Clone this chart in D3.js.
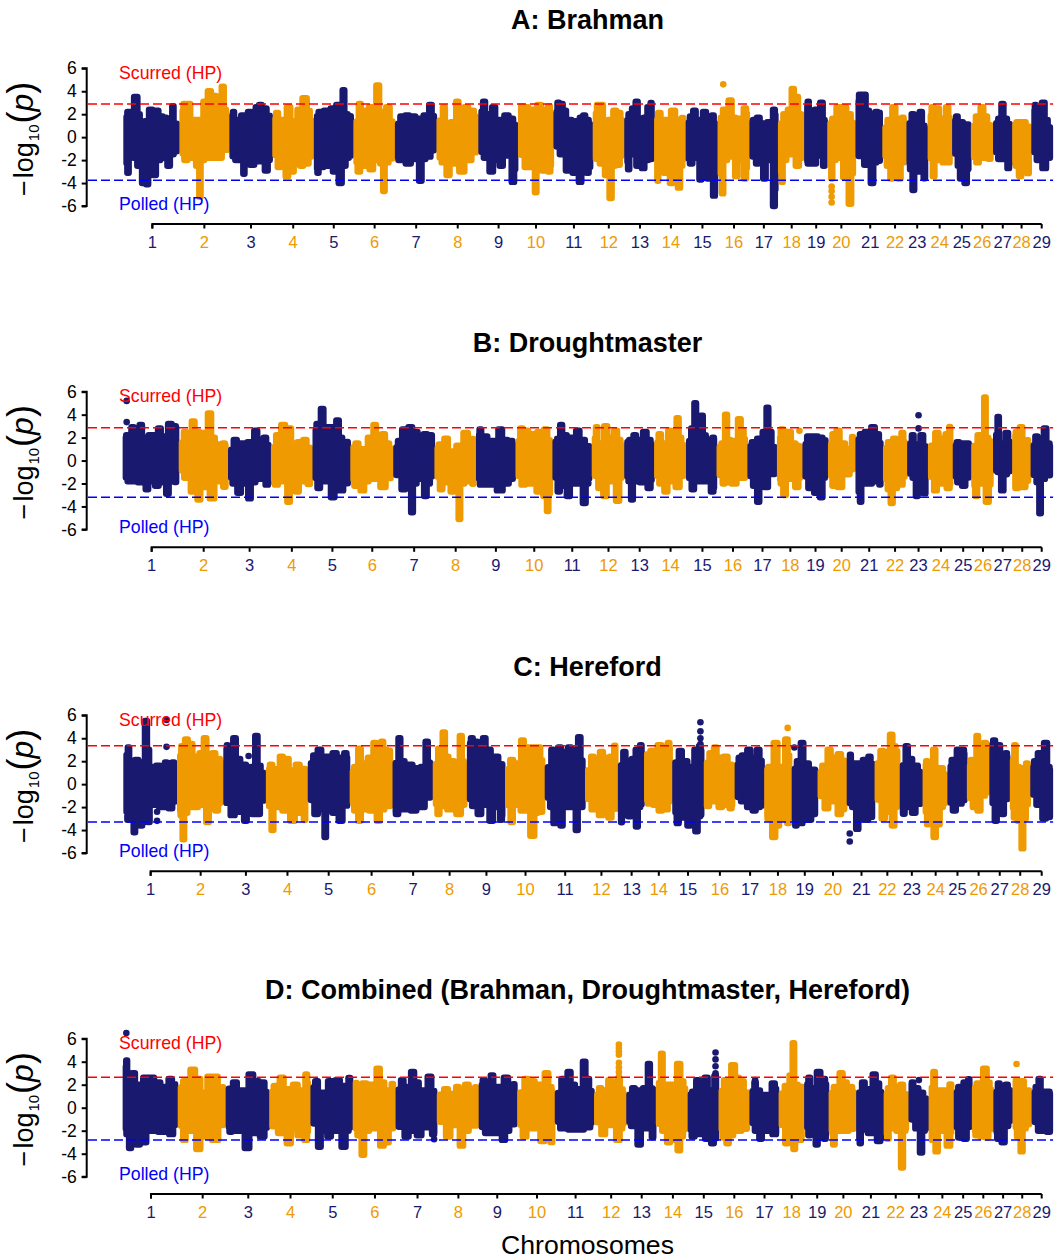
<!DOCTYPE html>
<html><head><meta charset="utf-8">
<script src="https://cdn.jsdelivr.net/npm/d3@7"></script>
<style>html,body{margin:0;padding:0;background:#fff}svg{display:block}text{font-family:"Liberation Sans",Arial,sans-serif}</style>
</head><body><div id="c"></div>
<script>
const chroms = d3.range(1,30).map(String);
const yTicks = [-6,-4,-2,0,2,4,6];
const genomeSecondHalfStart = 1568;
const navy = "#191970", orange = "#EE9A00";

// Each profile: flat position,value pairs. "1" = first half of the genome axis, "2" = second half.
const endsA1=[366,532,680,807,930,1047,1170,1293,1417,1532];
const endsA2=[68,185,279,368,462,557,652,737,815,884,968,1048,1120,1183,1256,1312,1378,1435,1492,1555];
const ticksA1=[451,605,743,868,988,1109,1232,1355,1476];
const ticksA2=[15,128,232,325,417,511,605,694,777,850,925,1011,1085,1151,1218,1284,1345,1406,1462,1522];
const topA1=[370,1.2,378,2.2,392,2.2,399,3.5,405,3.5,411,2,420,1,432,1.4,445,2.4,465,2.3,478,1.8,490,1.7,498,1,505,1,512,2.7,518,1,528,1.3,
535,1.3,544,2.9,558,2.9,575,1.5,598,1.5,604,3.1,620,4,635,3.6,648,2.3,660,4.4,668,2.4,677,1,
683,1,690,2.2,700,1.5,720,1.9,740,2.2,750,1.8,760,2.6,770,2.8,785,2.5,800,1.8,805,1,
810,.5,818,2.1,835,1.5,855,2.6,870,1.4,885,2.4,900,3.4,905,3.4,915,2.3,925,1,
933,1.5,945,2.2,965,2.3,985,2.5,1000,2.8,1008,2,1017,4.1,1025,2,1040,1.8,1045,1,
1050,.5,1065,2.9,1075,2.3,1100,2.6,1120,4.5,1128,2.2,1150,2.6,1165,1,
1173,.8,1188,1.8,1205,1.9,1225,1.8,1240,1.6,1260,1.9,1275,2.8,1285,1.8,
1296,1,1315,2.6,1322,1.2,1340,1.3,1355,3.1,1362,1.6,1380,2.6,1400,2.3,1414,1.5,
1420,1.5,1432,3.1,1445,2,1462,2.6,1475,1.5,1500,1.9,1515,1.6,1528,.8,
1536,1.5,1540,2.7,1555,2.6];
const topA2=[5,2.4,25,2.8,40,2.4,55,2.7,66,1,
72,1.2,80,3,92,2.9,100,2.3,115,1.5,135,1.4,150,1.7,158,1.9,170,1.5,182,.8,
190,1.5,198,2.8,212,2.8,220,1.4,235,1.5,250,2.3,265,2.1,275,1,
283,1,292,2,305,2.5,315,3.1,325,1.6,340,1.7,350,2.6,360,3,365,1.5,
372,.8,380,2.1,400,1.5,425,2.3,440,1.5,455,1.7,460,.8,
466,.8,475,1.8,487,2.3,500,1.5,518,2.2,530,1.3,543,1.9,552,.8,
560,1.3,575,2.4,595,3.2,605,1.7,620,1.6,640,2.5,648,1.5,
656,1,662,1.5,678,1.7,690,1.2,710,1.3,726,2.4,734,1,
741,.8,755,2,770,2.4,780,4.2,792,3.5,805,2,812,.8,
819,1.5,825,3.1,835,2,850,2.4,867,3,875,1.5,881,.6,
888,1,900,1.6,915,2.6,935,2.6,950,2,963,1,
972,1.5,978,3.7,995,3.7,1003,2.3,1018,1.8,1030,2.2,1042,2.1,1046,1,
1052,.5,1065,1.5,1082,2.6,1095,1.6,1110,1.7,1116,.8,
1124,.8,1137,2,1150,1.3,1162,2.2,1172,1,1180,.3,
1187,1,1195,2.6,1212,2.5,1225,1.6,1242,2.6,1252,1,
1260,1,1268,1.8,1280,1.3,1305,1.1,1310,.5,
1316,.5,1328,1.8,1345,2.6,1355,1.8,1374,.8,
1382,1,1395,1.6,1405,2.9,1415,1.6,1430,1,
1438,.8,1448,1.3,1470,1.3,1488,.8,
1496,1,1502,2.8,1510,1.5,1528,3,1537,1.5,1552,.5];
const botA1=[370,-1.2,378,-3.1,388,-1.5,398,-1.8,410,-2.5,425,-4,436,-4.1,445,-1.5,458,-3.3,470,-2,485,-1.8,500,-2.5,510,-1.5,525,-1.2,
535,-1,548,-2,570,-1.8,585,-2.5,592,-5.2,598,-2,620,-1.8,650,-1.8,675,-1,
683,-1.5,700,-2,716,-2,722,-3.2,728,-2,745,-2.4,770,-2.1,790,-2.9,803,-1.5,
810,-1,825,-2.6,840,-2.2,848,-3.4,865,-3,880,-2,892,-2.5,910,-2.3,925,-1.5,
933,-1.5,940,-3.1,950,-2.6,975,-2.5,990,-3,1008,-4,1020,-2.5,1030,-1.8,1045,-1.5,
1050,-1.2,1060,-3,1080,-2.5,1100,-2.8,1115,-2,1130,-2.3,1136,-4.7,1145,-2.2,1165,-1.8,
1173,-1.2,1180,-2,1210,-2.3,1230,-1.9,1245,-3.8,1255,-1.9,1270,-1.7,1288,-1,
1296,-1.5,1310,-2.2,1327,-3.3,1340,-2.3,1368,-3,1390,-2,1412,-1.2,
1420,-1,1435,-1.8,1455,-3,1470,-2,1483,-2.5,1500,-1.6,1519,-3.9,1528,-1.7,
1540,-1.5,1555,-2.6];
const botA2=[7,-2.6,14,-4.8,22,-2.6,37,-2.9,57,-3,66,-1,
72,-.6,90,-1.5,110,-2.9,130,-3.1,148,-3.9,155,-3,170,-3.1,182,-2.2,
190,-1.8,210,-2.3,225,-3.3,238,-5.3,246,-2.5,262,-2.4,275,-1.2,
283,-1,290,-2.8,300,-1.5,320,-2.5,335,-2.7,345,-2,360,-1.9,365,-1,
372,-1.5,377,-3.8,385,-2.5,400,-3.1,420,-4,428,-2.4,442,-4.4,450,-2.5,460,-1,
466,-1.5,475,-2.3,495,-1.8,505,-3.7,515,-2.5,530,-3.6,548,-5.1,554,-2.5,
560,-1.5,571,-4.9,578,-2,600,-1.7,612,-3.4,620,-2,640,-3.6,650,-1,
656,-1.5,675,-2.3,685,-2,695,-3.6,710,-2,726,-6,733,-2,
741,-1.5,748,-3.9,755,-2,775,-1.5,795,-2.5,812,-1.5,
819,-1.5,825,-2.3,845,-2.3,860,-1.6,875,-2.5,881,-1,
888,-1,896,-3.6,903,-2,920,-1.8,935,-3.5,952,-5.8,960,-3,965,-1,
972,-1.5,1000,-2.4,1018,-4,1025,-2.2,1045,-2,
1052,-1,1062,-2.5,1075,-3.6,1085,-2.5,1098,-3.6,1110,-2.2,1117,-1,
1124,-1,1130,-2.8,1140,-4.6,1147,-3,1160,-3,1175,-3.6,1180,-2.5,
1187,-1,1200,-3.4,1208,-2,1235,-2.2,1250,-2.2,
1260,-1,1275,-2.5,1280,-3.6,1297,-4,1305,-2.5,1310,-1,
1316,-1.5,1330,-2.2,1345,-1.8,1374,-1.9,
1382,-1,1395,-1.9,1410,-1.9,1424,-2.7,1432,-1.5,
1438,-1,1445,-2.5,1458,-3.4,1468,-2.5,1485,-3.2,1490,-1.8,
1496,-1,1510,-2,1530,-2.7,1552,-1.5];
const outA1=[], outA2=[573,4.6,896,-4.3,896,-4.7,896,-5.2,896,-5.7];

const endsB1=[364,530,676,803,926,1038,1165,1287,1410,1525];
const endsB2=[65,182,279,368,463,554,646,734,810,886,968,1050,1122,1184,1258,1313,1378,1435,1490,1555];
const ticksB1=[449,603,739,864,984,1102,1226,1349,1468];
const ticksB2=[10,123,231,324,416,511,602,690,773,848,926,1008,1085,1155,1222,1288,1347,1406,1464,1522];
const topB1=[368,1.5,374,2.2,382,2,392,2.9,405,2.4,417,3.1,428,2,445,2.2,458,2.2,472,2.8,485,2.1,503,3.2,520,3,527,2.5,
533,1,547,2.5,558,1.9,572,3.4,585,2.5,600,2.4,622,4.1,632,2,645,1.4,665,1.5,673,1,
679,.5,695,1.8,715,1.5,740,1.6,758,2.6,770,1.8,785,2,800,1,
806,.5,820,2.2,838,3.1,858,2.8,870,1.5,885,1.6,903,1.8,920,1,
930,2,938,3.2,955,4.5,963,2.9,985,2.9,1000,3.5,1010,2,1020,1.5,1035,1.7,
1042,1,1055,1.5,1075,1,1095,2,1110,3.1,1120,2,1135,2.3,1150,1.5,1162,.7,
1169,.8,1180,1.7,1195,2.7,1215,2.9,1232,2.5,1245,1.5,1258,2.3,1280,2.2,
1290,.7,1300,1.4,1322,1.9,1335,.8,1358,1.3,1378,2.4,1405,1.8,
1414,1,1420,2.7,1435,2.1,1460,1.7,1482,2.7,1495,1.8,1515,1.7,1522,.8,
1528,.8,1540,2.8,1555,2.6];
const topB2=[5,2.3,25,2.5,45,2.7,60,1.5,
70,1.5,80,1.9,90,3.1,100,2.2,122,2,140,2.6,155,1.8,175,1.2,
186,1,195,2.9,205,1.5,224,3,235,2,253,2.6,265,1.8,275,1,
283,1.5,295,1.8,310,2.2,320,1.8,340,2.5,355,1.8,364,1,
372,1,382,2.3,400,1.5,413,2.6,425,2.2,438,3.7,445,2,460,1,
466,1,480,2.8,490,5,497,3,510,3.9,517,2.2,530,1.8,545,2,552,1,
558,1,570,1.5,582,4,590,1.8,605,1.7,622,3.6,632,2.6,642,1.3,
650,1,660,1.6,680,1.9,695,2.5,705,4.6,713,2.5,730,.7,
738,.8,745,2.7,770,2.5,785,1.5,795,1.3,806,1.2,
814,1,825,2.1,850,2.1,865,2,882,1.7,
890,.7,900,2.3,915,2.6,930,1.5,950,1,960,2.1,965,1,
972,1.5,982,2.3,1000,2.5,1020,2.9,1035,2.3,1046,1,
1054,.8,1066,1.6,1085,1.9,1095,1.4,1108,2.4,1118,1,
1126,1,1137,2.2,1148,1.4,1166,2.2,1180,.8,
1188,1,1210,2.4,1225,1.9,1240,2.3,1252,3.1,1256,1.5,
1262,1,1270,1.6,1290,1.5,1310,1.5,
1317,1,1335,2.2,1345,2.2,1353,5.5,1360,2,1375,1.5,
1382,1,1392,3.8,1400,1.5,1420,2.4,1432,1,
1438,1,1445,2.5,1462,2.9,1470,1.7,1487,1.8,
1494,.8,1505,2.1,1520,1.5,1532,2.8,1545,1.5,1552,.5];
const botB1=[368,-1.3,380,-1.8,420,-1.9,436,-2.5,445,-1.8,465,-2.2,480,-1.9,497,-2.9,505,-1.8,527,-1.9,
533,-.5,548,-1.5,572,-2.7,590,-3.4,600,-2.3,630,-3.3,645,-1.8,668,-2.3,673,-1,
679,-1,690,-2,708,-2.8,725,-2,739,-3.3,750,-1.9,770,-1.6,793,-2.1,800,-1.5,
806,-1,815,-2.1,840,-1.8,855,-3.6,865,-2,880,-2.7,895,-1.8,923,-2.1,
930,-1,942,-2.4,960,-1.8,988,-3.2,995,-1.8,1010,-2.6,1035,-1.8,
1042,-1,1050,-2.2,1075,-2.6,1085,-1.8,1105,-1.6,1135,-2.3,1160,-1.4,
1169,-1,1195,-2.5,1210,-2,1220,-4.5,1228,-2,1245,-1.6,1260,-3.1,1270,-2,1284,-1,
1290,-.8,1305,-2.5,1320,-1.9,1340,-2.7,1352,-2.2,1360,-5.1,1368,-2,1390,-1.8,1405,-2.1,
1414,-1,1422,-2.1,1445,-2.1,1482,-2.6,1500,-2,1520,-1.5,
1528,-1,1545,-2.1,1565,-2];
const botB2=[25,-2.7,42,-3.1,50,-4.4,58,-2.5,
70,-1,82,-2.7,95,-2.2,112,-3.1,125,-2,142,-2,160,-3.7,170,-2,178,-1,
186,-1,205,-2.4,220,-3.1,238,-1.8,260,-3.5,270,-1.5,
283,-1,292,-1.8,301,-3.4,310,-1.8,330,-1.9,355,-2.4,364,-1,
372,-1,385,-2,403,-2.7,415,-1.8,438,-2.3,460,-1,
466,-1,482,-2.5,495,-1.8,520,-1.8,543,-2.7,552,-1.5,
558,-1,575,-2,582,-1.9,605,-2,630,-1.5,642,-1.5,
650,-1,665,-2.2,678,-3.6,686,-2,698,-2.3,730,-1,
738,-1,745,-2,755,-3,770,-1.6,795,-2.3,806,-1,
814,-1,830,-2.4,850,-2.8,866,-3.2,875,-1.5,882,-1,
890,-.6,900,-2.2,920,-2.3,945,-1.2,965,-.6,
972,-2,982,-3.6,990,-2,1010,-2,1030,-1.8,1046,-2.2,
1054,-1,1065,-2.5,1075,-3.7,1085,-2.4,1105,-2.1,1118,-1,
1126,-1,1140,-1.5,1150,-3.1,1158,-1.5,1176,-2.9,1181,-1,
1188,-1,1205,-2.6,1220,-2,1247,-2.4,1255,-1.2,
1262,-1,1272,-1.9,1290,-2.2,1310,-1.2,
1317,-1,1325,-3.1,1340,-2,1362,-3.6,1370,-2,1375,-1.2,
1382,-.8,1392,-1,1405,-2.6,1415,-1.2,1432,-.8,
1438,-1,1442,-2.4,1470,-2.3,1487,-1.5,
1494,-1,1510,-1.9,1517,-4.6,1525,-1.6,1552,-1.2];
const outB1=[375,5.2,375,3.35], outB2=[800,2.6,1155,3.95,1155,2.8];

const endsC1=[366,525,662,788,912,1036,1163,1282,1383,1495];
const endsC2=[42,162,260,338,422,516,608,696,778,855,942,1025,1100,1168,1242,1300,1367,1428,1489,1555];
const ticksC1=[446,594,728,851,973,1100,1223,1331,1440,1553];
const ticksC2=[102,210,300,381,468,563,653,736,816,900,985,1062,1135,1206,1271,1334,1397,1458,1522];
const topC1=[370,2,380,3.2,388,1.8,405,2.1,420,1.9,433,5.5,440,3,445,1.5,470,1.6,480,1,492,1.9,498,1.5,515,1.9,522,1,
528,1.5,538,3.3,552,3.9,565,3.5,580,2.4,595,2.7,607,4,620,2.4,632,2.7,650,2.2,659,1.5,
665,2,672,3.4,680,2.5,695,4,705,2.2,725,1.7,736,1,745,1.5,760,4.2,768,1.6,785,.7,
792,.8,800,1.7,820,1.3,832,2.4,850,2.2,865,1.2,880,1.7,905,1.3,
916,1.5,930,2.5,945,3,965,2.4,993,2.7,1005,2.3,1025,2.7,1033,1.5,
1040,.8,1050,1.5,1065,3.1,1075,1.8,1095,2.3,1110,3.6,1120,2.8,1132,3.7,1140,3,1158,2.9,1161,1.5,
1167,1,1183,4,1190,2,1215,1.7,1235,1.4,1250,1.5,1264,3.7,1272,1.9,1280,1.5,
1285,1,1300,3.1,1315,4.5,1322,2.4,1340,2,1352,1.5,1365,4.2,1372,2,1380,1,
1387,3,1395,4,1410,3.7,1420,2.6,1434,4,1445,3,1470,2.4,1490,1.6,
1498,.8,1512,2.1,1530,1.8,1545,3.8,1555,3.2];
const topC2=[5,3.2,25,3.2,38,1.5,
46,1,65,3,72,1.5,85,3.2,100,2.8,115,3.2,130,3,145,4.1,155,1.7,160,1,
166,.8,183,2.4,195,1.8,210,2.8,225,2.3,240,2.4,252,3.4,258,1,
263,1,278,2.8,290,2,305,2.2,315,3,330,3.4,336,1.5,
342,2.5,360,2.9,385,3.4,398,2.3,412,3.6,420,1.5,
425,1.5,445,2.9,460,2,480,1.5,490,3,505,3.3,514,2,
520,1.5,535,2.7,550,3.2,560,2.3,580,2.4,605,1.5,
612,1,620,2.3,632,2.5,650,3,662,2.3,678,3,693,1.5,
700,1,708,1.5,730,3.6,745,1.5,763,3.9,772,2,
782,1,795,2,808,3.6,820,1.8,850,1.2,853,.6,
860,.8,870,1.6,890,3,900,2.3,920,2.6,935,2,940,1,
946,1,950,2.6,960,1.8,975,1.8,995,2.1,1010,2.4,1022,1.3,
1030,1.5,1045,2.9,1060,2.8,1074,4.3,1084,3.3,1095,2.7,
1104,1,1120,3.3,1130,2.2,1150,1.6,1165,.8,
1172,.8,1178,2,1190,1.5,1202,3,1212,1.4,1225,1.4,1238,.6,
1246,1,1255,2.1,1275,3,1290,3,1297,1.5,
1304,1,1312,2.1,1322,1.5,1330,4.2,1338,2.2,1355,3.6,1364,2,
1371,3,1378,3.8,1395,3.4,1405,2,1418,2.7,1425,1.3,
1432,1,1442,3.4,1450,1.5,1465,1.4,1480,1.8,1486,.8,
1493,.6,1500,2,1515,2.7,1535,3.6,1545,1.5,1553,.3];
const botC1=[370,-1.5,378,-3.1,390,-2,398,-4.2,405,-2.5,418,-3.6,428,-2.5,440,-3.3,450,-1.8,480,-2,507,-2.1,522,-1.2,
528,-1,535,-2.7,543,-4.8,550,-2.5,565,-2,580,-2,600,-1.8,615,-3.3,625,-2,642,-2.3,659,-1.3,
665,-1.3,688,-2.7,710,-2.4,728,-3.2,736,-1.6,750,-2.6,765,-2.6,785,-1,
792,-1,807,-4,815,-2,845,-2.3,865,-3.2,890,-2.5,905,-3.2,910,-1.5,
916,-1,935,-2.6,955,-2.2,963,-4.6,970,-2.2,990,-2.5,1008,-3.2,1033,-1.5,
1040,-1,1050,-2.3,1065,-3.2,1075,-2.2,1100,-2.3,1122,-3.2,1130,-2.2,1155,-1.9,
1167,-1,1172,-2.6,1195,-2.2,1225,-2.3,1250,-2,1278,-1,
1285,-1,1297,-2.6,1310,-1.9,1330,-2.2,1360,-2.6,1380,-1.5,
1387,-1,1400,-1.9,1420,-2.6,1435,-1.8,1455,-3.2,1470,-2,1485,-3.1,1492,-1.5,
1498,-1,1513,-3.3,1525,-1.8,1545,-2.3];
const botC2=[8,-4.5,15,-2.5,35,-2.4,40,-1,
46,-.8,60,-2,70,-3.4,78,-2,92,-3.6,100,-2,125,-2,137,-4,145,-2,160,-2,
166,-1,185,-2.2,210,-2.7,220,-2.2,235,-2.9,255,-2,
263,-1,268,-3.4,277,-2,295,-2.8,305,-2.2,316,-3.7,324,-2,336,-1.5,
342,-1,350,-1.7,370,-1.8,385,-2.3,405,-2.2,420,-1,
425,-1.5,436,-3.4,450,-2.9,473,-3.6,480,-3,494,-4.1,503,-2.8,514,-2.5,
520,-2,545,-1.5,565,-2,580,-1.8,597,-2.1,605,-1.3,
612,-1,630,-1.5,650,-2,665,-2.3,680,-2,693,-1.8,
700,-1,705,-3,725,-4.6,735,-3.6,750,-3,770,-3.4,775,-2,
782,-1.5,788,-3.6,800,-3.4,830,-3.1,850,-2.5,
860,-.8,880,-2.1,900,-1.5,920,-2.6,940,-2,
946,-1.5,960,-2,973,-3.9,982,-2,1000,-3.1,1020,-2.8,
1030,-1,1050,-3,1065,-2.4,1080,-3.6,1090,-2,1097,-.9,
1104,-.9,1108,-2.6,1125,-2,1140,-2.5,1160,-1.7,1165,-1.2,
1172,-1.5,1182,-3.5,1192,-2.5,1203,-4.6,1215,-3.5,1225,-2,1238,-1.5,
1246,-1.3,1260,-2.3,1280,-1.7,1296,-1.3,
1304,-.9,1320,-2,1335,-2.3,1350,-1,1364,-.6,
1371,-.9,1385,-3.2,1395,-2,1405,-2.6,1425,-.8,
1432,-1,1440,-2.9,1455,-3.2,1465,-5.6,1472,-3,1486,-1,
1493,-.6,1510,-1.8,1530,-3,1553,-2.8];
const outC1=[493,5.6,493,3.25,736,2.45,465,-2.4,465,-3.2];
const outC2=[505,5.4,505,4.6,505,4,505,3.5,765,4.9,785,3.2,950,-4.3,950,-5];

const endsD1=[364,527,669,798,920,1045,1172,1294,1418,1530];
const endsD2=[72,189,285,373,468,560,652,739,815,888,970,1052,1126,1186,1261,1315,1379,1436,1493,1555];
const ticksD1=[447,600,735,860,985,1110,1236,1357,1472];
const ticksD2=[18,133,239,330,423,515,606,696,777,853,931,1013,1087,1156,1226,1288,1348,1407,1464,1522];
const topD1=[368,2,374,4.1,382,2.7,395,3,410,2,430,2.6,450,2.6,470,2.2,485,1.8,505,2.5,520,2,
531,1.5,545,2.3,572,3.3,590,2.5,600,1.3,620,2.7,640,2.7,655,1.5,665,2,
673,1.5,695,2.2,715,1.5,745,2.9,760,2.3,780,2.2,795,.9,
802,1,812,1.9,835,2.6,850,1.6,875,2,895,1.5,908,2.9,917,1,
925,1.5,935,2.3,955,1.3,978,2.3,1000,2.4,1020,1.9,1037,2.6,1042,1.5,
1050,2.5,1060,1.5,1078,2.1,1100,2,1121,3.4,1132,2.2,1150,1.5,1167,2.2,
1176,1.2,1190,2.4,1205,1.8,1222,3.1,1235,2.2,1250,1.5,1273,2.7,1290,1,
1298,1,1320,1.6,1340,1.2,1355,1.8,1365,1.2,1382,2,1400,1.6,1415,1.9,
1422,1.5,1430,2.4,1445,2,1456,2.8,1470,1.8,1500,2.6,1510,1.3,1524,2.2,
1534,1,1555,2.5];
const topD2=[5,2.3,25,2,48,3,60,1.8,68,1,
77,1,95,2.5,115,3.1,125,2,145,1.6,159,4,170,2.5,185,1,
193,.8,205,1.7,220,1.5,235,2.4,248,1.6,262,2.5,272,1.6,282,.8,
289,.9,305,1.7,320,1.5,340,1.7,352,3.8,360,1.7,370,1.5,
377,.8,390,4.7,398,2,420,2,442,3.8,452,2.3,465,1.2,
472,1,482,1.4,497,2.4,505,1.5,523,2.6,535,1.5,552,2.8,558,2,
564,1,578,2.4,605,3.7,615,2.6,630,2.3,648,1,
656,1,668,2.2,675,1.5,700,1.1,725,2.1,736,1.2,
743,1,760,1.9,775,2.8,782,5.6,790,2,810,1.8,
819,1.5,828,2.6,840,1.7,857,3.1,875,2.5,885,1.5,
892,1,905,1.8,926,3,935,2.2,955,1.8,967,1,
974,1,990,2.2,1005,1.6,1024,2.9,1035,2.1,1048,1,
1056,.7,1065,1.7,1077,2.6,1090,1.8,1105,2,1122,.9,
1130,1.2,1135,2.2,1150,1.7,1165,1.3,1183,.6,
1190,.8,1201,3.1,1210,1.5,1235,1.5,1255,2.1,1259,1,
1265,1,1275,1.8,1295,2.2,1312,2.6,
1319,1.5,1330,2.1,1355,3.4,1365,2.2,1376,1,
1383,.8,1393,2.1,1405,1.6,1418,2,1432,1.3,
1440,1,1445,2.4,1465,2.3,1478,1.5,1490,1.5,
1497,.8,1505,1.8,1516,2.5,1525,1.4,1545,1.4,1553,.5];
const botD1=[368,-1,375,-2.3,385,-3.5,395,-2,407,-3.2,430,-3,440,-2,480,-2.1,510,-2.3,524,-1,
531,-1,545,-2.8,560,-2,590,-3.6,600,-2.5,640,-2.8,660,-1.5,
673,-1,680,-2.1,700,-2,735,-3.5,745,-2.2,780,-2.5,795,-1.3,
802,-1.5,830,-2.2,857,-3.1,870,-1.8,885,-2.4,908,-2.8,917,-1,
925,-1,947,-3.4,955,-2,975,-2.5,990,-2,1020,-3.4,1030,-2,1042,-1.5,
1050,-1.5,1060,-2.4,1075,-4.1,1085,-2,1110,-1.8,1132,-3.3,1145,-3,1168,-1.5,
1176,-1.5,1205,-2.5,1220,-2,1240,-2.4,1265,-1.7,1285,-2.3,1290,-1,
1298,-1,1328,-2.5,1345,-1.5,1368,-3.3,1378,-2,1414,-1.5,
1422,-1.5,1440,-2.2,1470,-2.2,1492,-2.8,1500,-2,1527,-1.3,
1534,-1,1548,-2.5];
const botD2=[5,-1.8,38,-2.9,48,-1.9,65,-3.1,70,-1.5,
77,-1,90,-1.8,120,-1.9,150,-1.9,175,-1.7,185,-1,
193,-1,215,-2.3,235,-1.5,262,-2.8,270,-1.8,282,-1,
289,-1,300,-1.6,325,-3.2,333,-1.8,350,-1.8,365,-2.6,370,-1,
377,-1.2,395,-2,410,-3,425,-2.8,442,-3.7,450,-2.5,465,-1.5,
472,-1.2,480,-2.5,505,-2.3,525,-2.7,542,-3.1,555,-2.5,
564,-1,572,-2.6,587,-3.1,595,-2.4,620,-2,648,-1.8,
656,-1,670,-2,685,-2.7,695,-2,730,-2.3,736,-1,
743,-1,762,-3.1,775,-2.6,785,-3.6,792,-2,805,-2.8,812,-1.5,
819,-1,828,-2.4,840,-1.8,852,-3.2,860,-2,878,-2.7,885,-1,
892,-1,902,-3.2,912,-2,940,-2,965,-1.8,
974,-1.5,980,-3.1,990,-1.9,1010,-2.2,1040,-2.9,1050,-2.2,
1056,-1,1062,-2.7,1075,-1.8,1095,-2,1106,-5.2,1115,-2,1122,-1.5,
1130,-.8,1150,-1.8,1163,-3.9,1172,-2,1183,-1.6,
1190,-1,1195,-2.8,1210,-3.8,1218,-2,1248,-3.3,1255,-1.5,
1265,-1,1275,-2.6,1295,-2.7,1312,-1.2,
1319,-1,1325,-2.4,1345,-2.5,1360,-2.6,1376,-1.5,
1383,-1,1390,-2.7,1408,-3,1420,-1.6,1432,-.9,
1440,-1,1450,-2.5,1463,-3.8,1470,-1.8,1490,-1.3,
1497,-1,1515,-2,1550,-2.1];
const outD1=[374,6.5,1285,-2.75];
const outD2=[262,5.5,262,5.2,262,4.9,262,4.6,262,3.9,262,3.5,262,3.1,262,2.7,550,4.8,550,4.2,550,3.6,550,3,668,2.4,1156,2.4,1447,3.8];

const titles=["A: Brahman","B: Droughtmaster","C: Hereford","D: Combined (Brahman, Droughtmaster, Hereford)"];
const upperLines=[2.88,2.85,3.35,2.65];
const lowerLines=[-3.75,-3.2,-3.3,-2.8];
const panelTop=[68.3,391.7,715.3,1038.7];
const panelBottom=[206,529.4,853,1176.7];
const xAxisY=[224,547.3,871.3,1194];

const merge=(a,b)=>[...a,...b.map(v=>v+genomeSecondHalfStart)];
const pairs=(a,b)=>{const o=[];for(let i=0;i<a.length;i+=2)o.push([a[i],a[i+1]]);for(let i=0;i<b.length;i+=2)o.push([b[i]+genomeSecondHalfStart,b[i+1]]);return o;};
const panels=[
 {ends:merge(endsA1,endsA2),ticks:merge(ticksA1,ticksA2),top:pairs(topA1,topA2),bot:pairs(botA1,botA2),out:pairs(outA1,outA2)},
 {ends:merge(endsB1,endsB2),ticks:merge(ticksB1,ticksB2),top:pairs(topB1,topB2),bot:pairs(botB1,botB2),out:pairs(outB1,outB2)},
 {ends:merge(endsC1,endsC2),ticks:merge(ticksC1,ticksC2),top:pairs(topC1,topC2),bot:pairs(botC1,botC2),out:pairs(outC1,outC2)},
 {ends:merge(endsD1,endsD2),ticks:merge(ticksD1,ticksD2),top:pairs(topD1,topD2),bot:pairs(botD1,botD2),out:pairs(outD1,outD2)}
];

const W=1057,H=1259;
const svg=d3.select("#c").append("svg").attr("width",W).attr("height",H);
const x=d3.scaleLinear().domain([0,1476,1583,3090]).range([0,498.6,536,1041.7]);
const dotD=6.4, inset=dotD/2*2.965-1;
const colorOf=i=>i%2?orange:navy;

// Narrow columns at peaks: each reading keeps its level until 30% of the way to a smaller neighbour.
function columns(pts){
  const o=[pts[0]];
  for(let i=1;i<pts.length;i++){
    const p=pts[i-1],q=pts[i],gap=q[0]-p[0];
    const t=Math.abs(p[1])>=Math.abs(q[1])?p[0]+.3*gap:q[0]-.3*gap;
    o.push([t,p[1]],[t,q[1]],q);
  }
  return o;
}

panels.forEach((p,pi)=>{
  const y=d3.scaleLinear().domain([-6,6]).range([panelBottom[pi],panelTop[pi]]);
  const g=svg.append("g");
  const profile=pts=>d3.scaleLinear().domain(pts.map(d=>d[0])).range(pts.map(d=>d[1]));
  const topF=profile(p.top), botF=profile(p.bot);
  const line=d3.line().x(d=>x(d[0])).y(d=>y(d[1]));
  chroms.forEach((c,i)=>{
    const a=p.ends[i]+inset, b=p.ends[i+1]-inset;
    const inside=pts=>pts.filter(d=>d[0]>a&&d[0]<b);
    const upper=columns([[a,topF(a)],...inside(p.top),[b,topF(b)]]);
    const lower=columns([[a,botF(a)],...inside(p.bot),[b,botF(b)]]).reverse();
    g.append("path").attr("d",line([...upper,...lower])+"Z")
      .attr("fill",colorOf(i)).attr("stroke",colorOf(i))
      .attr("stroke-width",dotD).attr("stroke-linejoin","round");
  });
  g.selectAll("circle.o").data(p.out).join("circle").attr("class","o")
    .attr("cx",d=>x(d[0])).attr("cy",d=>y(d[1])).attr("r",dotD/2+.1)
    .attr("fill",d=>colorOf(d3.bisectRight(p.ends,d[0])-1));

  const lx1=x(3124), lx0=88;
  g.append("line").attr("x1",lx0).attr("x2",lx1).attr("y1",y(upperLines[pi])).attr("y2",y(upperLines[pi]))
    .attr("stroke","#ff0000").attr("stroke-width",1.5).attr("stroke-dasharray","9,4");
  g.append("line").attr("x1",lx0).attr("x2",lx1).attr("y1",y(lowerLines[pi])).attr("y2",y(lowerLines[pi]))
    .attr("stroke","#0000ff").attr("stroke-width",1.5).attr("stroke-dasharray","9,4");

  const yAx=d3.axisLeft(y).tickValues(yTicks).tickSize(5).tickPadding(5).tickFormat(d=>String(d));
  const ya=g.append("g").attr("transform","translate(86.7,0)").call(yAx);
  ya.selectAll("path,line").attr("stroke","#000").attr("stroke-width",2);
  ya.select(".domain").attr("d",`M-5,${y(6)}H0V${y(-6)}H-5`).attr("fill","none");
  ya.selectAll("text").attr("font-size",17.5).attr("font-family","Liberation Sans").attr("fill","#000");

  const xPos=d3.scaleOrdinal().domain(chroms).range(p.ticks.map(x));
  const xa=g.append("g").attr("transform",`translate(0,${xAxisY[pi]})`);
  xa.append("path").attr("d",`M${xPos("1")},4.5V0H${xPos("29")}`).attr("fill","none").attr("stroke","#000").attr("stroke-width",2);
  chroms.forEach((c,i)=>{
    xa.append("line").attr("x1",xPos(c)).attr("x2",xPos(c)).attr("y1",0).attr("y2",4.5).attr("stroke","#000").attr("stroke-width",2);
    xa.append("text").attr("x",xPos(c)).attr("y",24).attr("text-anchor","middle").attr("font-size",16.5)
      .attr("fill",colorOf(i)).text(c);
  });

  const off=panelTop[pi]-68.3;
  g.append("text").attr("x",119).attr("y",79+off).attr("font-size",17.7).attr("fill","#ff0000").text("Scurred (HP)");
  g.append("text").attr("x",119).attr("y",210+off).attr("font-size",17.7).attr("fill","#0000ff").text("Polled (HP)");
  g.append("text").attr("x",587.5).attr("y",29+off).attr("text-anchor","middle").attr("font-size",27).attr("font-weight","bold").text(titles[pi]);

  const lab=g.append("text").attr("transform",`translate(33,${196+off}) rotate(-90)`).attr("text-anchor","start").attr("font-size",27);
  lab.append("tspan").text("\u2212");
  lab.append("tspan").attr("dx",2).text("log");
  lab.append("tspan").attr("font-size",15).attr("dy",6).attr("dx",1).text("10");
  lab.append("tspan").attr("dy",-6).attr("font-size",36).attr("dx",1).text("(");
  lab.append("tspan").attr("font-style","italic").attr("font-size",32).text("p");
  lab.append("tspan").attr("font-size",36).text(")");
});

svg.append("text").attr("x",587.5).attr("y",1254).attr("text-anchor","middle").attr("font-size",26.6).text("Chromosomes");
</script></body></html>
